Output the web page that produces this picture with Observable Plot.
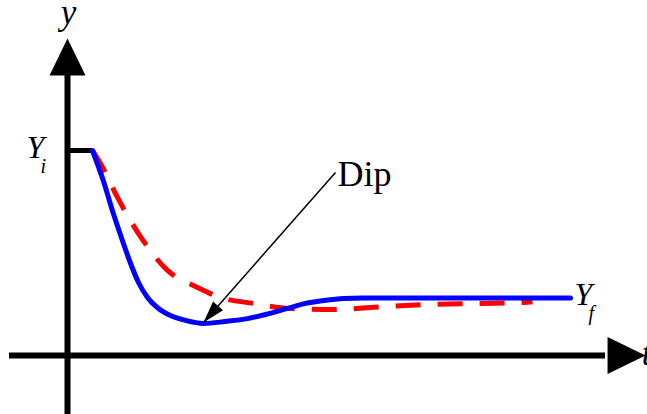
<!DOCTYPE html>
<html>
<head>
<meta charset="utf-8">
<script src="https://cdn.jsdelivr.net/npm/d3@7"></script>
<script src="https://cdn.jsdelivr.net/npm/@observablehq/plot@0.6"></script>
<style>
  html, body { margin: 0; padding: 0; background: #fff; }
  #chart svg { display: block; }
  #chart svg text { font-family: "Times New Roman", "Liberation Serif", "DejaVu Serif", serif !important; }
</style>
</head>
<body>
<div id="chart"></div>
<script>
// ---- data (time t, response y; Y_i = 1) ----
const blueT = [0.50, 0.72, 0.92, 1.10, 1.26, 1.42, 1.60, 1.82, 2.06, 2.36, 2.72, 3.16, 3.60, 3.96, 4.26, 4.46, 4.76, 5.12, 5.52, 5.92, 10.06];
const blueY = [1.00, 0.85, 0.69, 0.56, 0.45, 0.356, 0.283, 0.229, 0.195, 0.171, 0.156, 0.166, 0.180, 0.200, 0.220, 0.234, 0.254, 0.268, 0.278, 0.280, 0.280];
const redT  = [0.50, 0.66, 1.00, 1.42, 2.00, 2.60, 3.06, 3.72, 4.46, 5.32, 6.36, 7.26, 8.26, 9.12, 9.30];
const redY  = [1.00, 0.937, 0.771, 0.595, 0.415, 0.332, 0.283, 0.254, 0.229, 0.224, 0.239, 0.249, 0.254, 0.259, 0.262];

// Y_i level marker
const yiLevel = 1.00;
const yiStepT = [0.0, 0.50];

// axes: [start, arrow base, arrow tip]
const xAxisT = [-1.16, 10.76, 11.56];
const yAxisY = [-0.2878, 1.366, 1.546];

// "Dip" annotation arrow: from label to the dip minimum
const dipFrom = [5.36, 0.893];
const dipTo   = [2.72, 0.161];

// labels
const axisLabels = [{text: "y", t: 0.02, y: 1.615}, {text: "t", t: 11.58, y: -0.044}];
const levelLabels = [{text: "Y", t: -0.82, y: 0.961}, {text: "Y", t: 10.14, y: 0.244}];
const subLabels = [{text: "i", t: -0.54, y: 0.890}, {text: "f", t: 10.42, y: 0.171}];
const dipLabel = [{text: "Dip", t: 5.40, y: 0.829}];

// ---- drawing ----
const W = 647, H = 414;
const xDomain = [-67 / 50, (W - 67) / 50];
const yDomain = [-(H - 355) / 205, 355 / 205];

const xs = Plot.scale({x: {domain: xDomain, range: [0, W]}});
const ys = Plot.scale({y: {domain: yDomain, range: [H, 0]}});

const axisHead = {
  draw(ctx, size) {
    const r = Math.sqrt(size / Math.PI);
    ctx.moveTo(0, 0);
    ctx.lineTo(-r, 2.05 * r);
    ctx.lineTo(r, 2.05 * r);
    ctx.closePath();
  }
};
const thinHead = {
  draw(ctx, size) {
    const r = Math.sqrt(size / Math.PI);
    ctx.moveTo(0, 0);
    ctx.lineTo(-0.3 * r, r);
    ctx.lineTo(0.3 * r, r);
    ctx.closePath();
  }
};

const dx = xs.apply(dipTo[0]) - xs.apply(dipFrom[0]);
const dy = ys.apply(dipTo[1]) - ys.apply(dipFrom[1]);
const dipAngle = Math.atan2(dx, -dy) * 180 / Math.PI;

const blue = blueT.map((t, i) => ({t, y: blueY[i]}));
const red = redT.map((t, i) => ({t, y: redY[i]}));

const serif = "Times New Roman, Liberation Serif, serif";

const chart = Plot.plot({
  width: W,
  height: H,
  margin: 0,
  x: {domain: xDomain, axis: null},
  y: {domain: yDomain, axis: null},
  style: {background: "#fff", overflow: "visible"},
  marks: [
    // axis shafts
    Plot.ruleY([0], {x1: xAxisT[0], x2: xAxisT[1], stroke: "#000", strokeWidth: 6}),
    Plot.ruleX([0], {y1: yAxisY[0], y2: yAxisY[1], stroke: "#000", strokeWidth: 6}),
    // axis arrow heads
    Plot.dot([{t: xAxisT[2], y: 0}], {x: "t", y: "y", symbol: axisHead, r: 18.5, fill: "#000", stroke: "none", rotate: 90}),
    Plot.dot([{t: 0, y: yAxisY[2]}], {x: "t", y: "y", symbol: axisHead, r: 18, fill: "#000", stroke: "none", rotate: 0}),
    // Y_i step
    Plot.ruleY([yiLevel], {x1: yiStepT[0], x2: yiStepT[1], stroke: "#000", strokeWidth: 5}),
    // curves
    Plot.line(red, {x: "t", y: "y", stroke: "#ff0000", strokeWidth: 5, curve: "monotone-x", strokeDasharray: "25,17", strokeLinecap: "butt"}),
    Plot.line(blue, {x: "t", y: "y", stroke: "#0000ff", strokeWidth: 5, curve: "monotone-x"}),
    // Dip arrow
    Plot.link([{x1: dipFrom[0], y1: dipFrom[1], x2: dipTo[0], y2: dipTo[1]}], {x1: "x1", y1: "y1", x2: "x2", y2: "y2", stroke: "#000", strokeWidth: 1.5}),
    Plot.dot([{t: dipTo[0], y: dipTo[1]}], {x: "t", y: "y", symbol: thinHead, r: 22, fill: "#000", stroke: "none", rotate: dipAngle}),
    // labels
    Plot.text(axisLabels, {x: "t", y: "y", text: "text", fontFamily: serif, fontStyle: "italic", fontSize: 35, textAnchor: "middle", lineAnchor: "bottom", fill: "#000"}),
    Plot.text(levelLabels, {x: "t", y: "y", text: "text", fontFamily: serif, fontStyle: "italic", fontSize: 32, textAnchor: "start", lineAnchor: "bottom", fill: "#000"}),
    Plot.text(subLabels, {x: "t", y: "y", text: "text", fontFamily: serif, fontStyle: "italic", fontSize: 20, textAnchor: "start", lineAnchor: "bottom", fill: "#000"}),
    Plot.text(dipLabel, {x: "t", y: "y", text: "text", fontFamily: serif, fontSize: 36, textAnchor: "start", lineAnchor: "bottom", fill: "#000"})
  ]
});
document.getElementById("chart").appendChild(chart);
</script>
</body>
</html>
